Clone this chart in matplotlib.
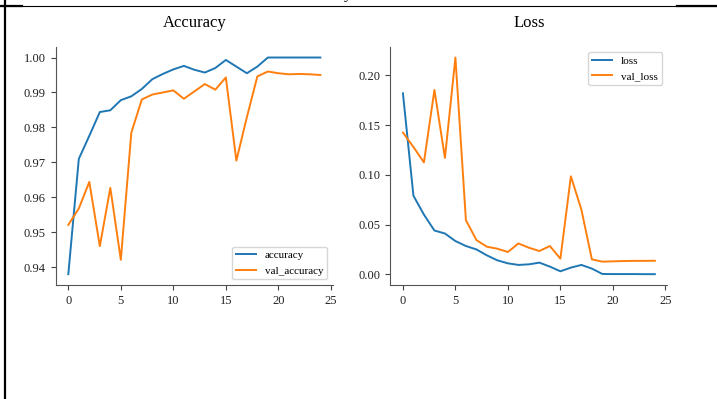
import matplotlib
matplotlib.use('Agg')
import matplotlib.pyplot as plt
from matplotlib.lines import Line2D

plt.rcParams['font.family'] = ['Liberation Serif', 'DejaVu Serif']

epochs = list(range(25))

accuracy = [0.938, 0.971, 0.9776, 0.9844, 0.9849, 0.9878, 0.9889, 0.9910, 0.9938,
            0.9953, 0.9966, 0.9976, 0.9965, 0.9957, 0.9970, 0.9993, 0.9974, 0.9955,
            0.9974, 1.0, 1.0, 1.0, 1.0, 1.0, 1.0]
val_accuracy = [0.9521, 0.9568, 0.9644, 0.9460, 0.9627, 0.9421, 0.9785, 0.9880, 0.9894,
                0.9900, 0.9906, 0.9882, 0.9903, 0.9924, 0.9908, 0.9943, 0.9705, 0.9829,
                0.9946, 0.9960, 0.9955, 0.9952, 0.9953, 0.9952, 0.9950]

loss = [0.182, 0.079, 0.060, 0.044, 0.041, 0.0334, 0.0284, 0.025, 0.019, 0.014,
        0.011, 0.0094, 0.010, 0.0117, 0.0077, 0.003, 0.0067, 0.0094, 0.0057, 0.0003,
        0.0002, 0.0002, 0.0002, 0.0001, 0.0001]
val_loss = [0.1426, 0.128, 0.1125, 0.1854, 0.117, 0.218, 0.0544, 0.0344, 0.0277, 0.0257,
            0.0224, 0.031, 0.0267, 0.0234, 0.0284, 0.0157, 0.0985, 0.065, 0.015, 0.0127,
            0.013, 0.0133, 0.0135, 0.0135, 0.0136]


def style_axes(ax):
    ax.spines['top'].set_visible(False)
    ax.spines['right'].set_visible(False)
    for s in ('left', 'bottom'):
        ax.spines[s].set_color('#555555')
    ax.tick_params(labelsize=9, length=3.5, color='#444444', labelcolor='#222222')


fig = plt.figure(figsize=(7.17, 3.99), dpi=100)
ax1 = fig.add_axes([0.0777, 0.2857, 0.3867, 0.5973])
ax2 = fig.add_axes([0.5444, 0.2857, 0.3865, 0.5973])

ax1.plot(epochs, accuracy, color='#1f77b4', lw=1.4, label='accuracy')
ax1.plot(epochs, val_accuracy, color='#ff7f0e', lw=1.4, label='val_accuracy')
ax1.set_title('Accuracy', fontsize=12, pad=14)
ax1.legend(loc='lower right', fontsize=8, handlelength=1.8, borderpad=0.35)
style_axes(ax1)

ax2.plot(epochs, loss, color='#1f77b4', lw=1.4, label='loss')
ax2.plot(epochs, val_loss, color='#ff7f0e', lw=1.4, label='val_loss')
ax2.set_title('Loss', fontsize=12, pad=14)
ax2.legend(loc='upper right', fontsize=8, handlelength=1.8, borderpad=0.35)
style_axes(ax2)

# table cell borders from the surrounding document
y_top = 1 - 5.5 / 399
fig.add_artist(Line2D([0, 1], [y_top, y_top], color='black', lw=0.8))
fig.add_artist(Line2D([0, 22 / 717], [y_top, y_top], color='black', lw=1.6))
fig.add_artist(Line2D([677 / 717, 1], [y_top - 0.002, y_top - 0.002], color='black', lw=1.6))
fig.add_artist(Line2D([4.5 / 717, 4.5 / 717], [0, 1], color='black', lw=1.6))
# clipped text from the line above
fig.text(348 / 717, 1 + 4 / 399, 'y', fontsize=11, ha='center', va='center')

fig.savefig('out.png', dpi=100)
